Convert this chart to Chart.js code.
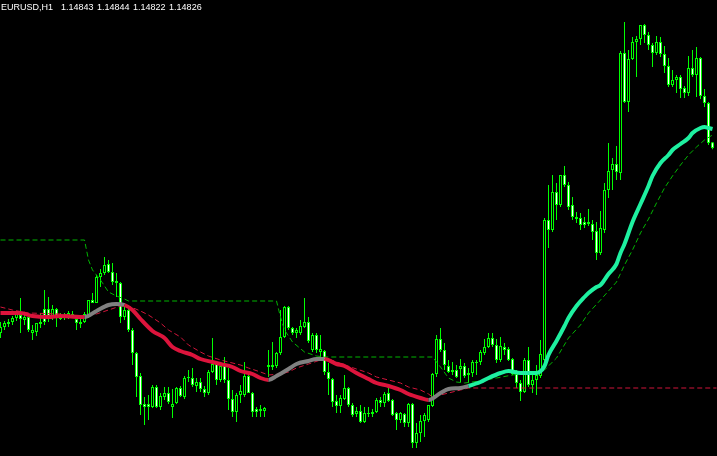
<!DOCTYPE html>
<html>
<head>
<meta charset="utf-8">
<title>EURUSD,H1</title>
<script src="https://cdn.jsdelivr.net/npm/chart.js@4.4.1/dist/chart.umd.min.js"></script>
<style>
  html, body { margin: 0; padding: 0; background: #000; }
  #wrap { width: 717px; height: 456px; position: relative; }
</style>
</head>
<body>
<div id="wrap"><canvas id="chart"></canvas></div>
<script>
// symbol and period shown in the corner
const symbol = 'EURUSD';
const timeframe = 'H1';

// one entry per H1 bar, oldest first
const opens = [
  1.14271, 1.14289, 1.14298, 1.14304, 1.14316, 1.14325, 1.14310, 1.14319, 1.14271, 1.14274,
  1.14298, 1.14343, 1.14343, 1.14316, 1.14343, 1.14319, 1.14316, 1.14319, 1.14328, 1.14313,
  1.14298, 1.14304, 1.14319, 1.14370, 1.14361, 1.14439, 1.14451, 1.14478, 1.14454, 1.14421,
  1.14421, 1.14319, 1.14340, 1.14280, 1.14211, 1.14142, 1.14058, 1.14058, 1.14049, 1.14109,
  1.14049, 1.14079, 1.14091, 1.14049, 1.14061, 1.14106, 1.14079, 1.14136, 1.14136, 1.14112,
  1.14124, 1.14103, 1.14091, 1.14154, 1.14178, 1.14130, 1.14178, 1.14130, 1.14073, 1.14034,
  1.14085, 1.14085, 1.14142, 1.14091, 1.14043, 1.14037, 1.14037, 1.14169, 1.14169, 1.14172,
  1.14211, 1.14259, 1.14349, 1.14286, 1.14271, 1.14271, 1.14289, 1.14304, 1.14220, 1.14265,
  1.14214, 1.14217, 1.14154, 1.14133, 1.14067, 1.14052, 1.14073, 1.14106, 1.14055, 1.14028,
  1.14037, 1.14004, 1.14031, 1.14028, 1.14034, 1.14070, 1.14061, 1.14091, 1.14070, 1.14031,
  1.14010, 1.14028, 1.14001, 1.14058, 1.13941, 1.13971, 1.14007, 1.14010, 1.14052, 1.14148,
  1.14253, 1.14220, 1.14172, 1.14154, 1.14160, 1.14163, 1.14172, 1.14145, 1.14151, 1.14181,
  1.14184, 1.14211, 1.14229, 1.14256, 1.14235, 1.14190, 1.14229, 1.14223, 1.14193, 1.14148,
  1.14121, 1.14094, 1.14190, 1.14115, 1.14130, 1.14142, 1.14190, 1.14610, 1.14580, 1.14694,
  1.14655, 1.14745, 1.14715, 1.14655, 1.14619, 1.14616, 1.14604, 1.14598, 1.14598, 1.14577,
  1.14511, 1.14580, 1.14700, 1.14760, 1.14778, 1.14751, 1.15111, 1.14964, 1.15093, 1.15144,
  1.15153, 1.15195, 1.15165, 1.15135, 1.15111, 1.15144, 1.15108, 1.15072, 1.15015, 1.15030,
  1.15039, 1.15006, 1.14991, 1.15066, 1.15045, 1.15096, 1.14982, 1.14961, 1.14843
];
const highs = [
  1.14304, 1.14307, 1.14313, 1.14322, 1.14334, 1.14376, 1.14334, 1.14331, 1.14295, 1.14301,
  1.14331, 1.14400, 1.14379, 1.14355, 1.14346, 1.14331, 1.14331, 1.14337, 1.14337, 1.14319,
  1.14316, 1.14334, 1.14370, 1.14391, 1.14445, 1.14463, 1.14499, 1.14490, 1.14481, 1.14451,
  1.14424, 1.14349, 1.14346, 1.14286, 1.14214, 1.14151, 1.14079, 1.14085, 1.14115, 1.14115,
  1.14091, 1.14109, 1.14109, 1.14103, 1.14109, 1.14112, 1.14142, 1.14160, 1.14166, 1.14136,
  1.14136, 1.14112, 1.14160, 1.14256, 1.14184, 1.14175, 1.14199, 1.14166, 1.14100, 1.14091,
  1.14115, 1.14184, 1.14145, 1.14094, 1.14049, 1.14055, 1.14049, 1.14220, 1.14244, 1.14214,
  1.14340, 1.14352, 1.14352, 1.14289, 1.14286, 1.14310, 1.14376, 1.14319, 1.14271, 1.14271,
  1.14265, 1.14220, 1.14181, 1.14136, 1.14085, 1.14085, 1.14145, 1.14109, 1.14061, 1.14049,
  1.14055, 1.14049, 1.14049, 1.14043, 1.14076, 1.14079, 1.14094, 1.14109, 1.14073, 1.14034,
  1.14034, 1.14031, 1.14061, 1.14061, 1.14001, 1.14025, 1.14031, 1.14055, 1.14151, 1.14265,
  1.14286, 1.14241, 1.14190, 1.14184, 1.14175, 1.14193, 1.14181, 1.14166, 1.14190, 1.14190,
  1.14220, 1.14253, 1.14271, 1.14271, 1.14253, 1.14259, 1.14241, 1.14229, 1.14196, 1.14160,
  1.14130, 1.14196, 1.14229, 1.14151, 1.14175, 1.14250, 1.14616, 1.14715, 1.14745, 1.14721,
  1.14745, 1.14772, 1.14724, 1.14679, 1.14634, 1.14631, 1.14619, 1.14643, 1.14610, 1.14604,
  1.14637, 1.14721, 1.14841, 1.14796, 1.14832, 1.15117, 1.15204, 1.15120, 1.15159, 1.15162,
  1.15195, 1.15198, 1.15174, 1.15141, 1.15162, 1.15159, 1.15132, 1.15096, 1.15060, 1.15045,
  1.15045, 1.15012, 1.15102, 1.15120, 1.15129, 1.15099, 1.15003, 1.14964, 1.14844
];
const lows = [
  1.14256, 1.14280, 1.14289, 1.14295, 1.14307, 1.14271, 1.14295, 1.14274, 1.14250, 1.14262,
  1.14286, 1.14295, 1.14304, 1.14310, 1.14289, 1.14310, 1.14310, 1.14313, 1.14316, 1.14280,
  1.14286, 1.14301, 1.14316, 1.14361, 1.14361, 1.14409, 1.14445, 1.14451, 1.14415, 1.14379,
  1.14301, 1.14310, 1.14274, 1.14175, 1.14079, 1.14025, 1.13995, 1.14010, 1.14046, 1.14046,
  1.14040, 1.14070, 1.14058, 1.14016, 1.14058, 1.14079, 1.14073, 1.14124, 1.14109, 1.14094,
  1.14094, 1.14079, 1.14085, 1.14151, 1.14115, 1.14124, 1.14121, 1.14040, 1.14019, 1.14004,
  1.14061, 1.14079, 1.14091, 1.14019, 1.14019, 1.14019, 1.14019, 1.14139, 1.14160, 1.14166,
  1.14205, 1.14256, 1.14280, 1.14265, 1.14256, 1.14265, 1.14286, 1.14241, 1.14214, 1.14211,
  1.14199, 1.14145, 1.14085, 1.14049, 1.14031, 1.14031, 1.14070, 1.14049, 1.14019, 1.14019,
  1.14001, 1.14001, 1.14019, 1.14019, 1.14031, 1.14049, 1.14049, 1.14064, 1.14022, 1.13980,
  1.14001, 1.13989, 1.13989, 1.13926, 1.13926, 1.13944, 1.13959, 1.14004, 1.14049, 1.14139,
  1.14214, 1.14160, 1.14151, 1.14145, 1.14136, 1.14124, 1.14136, 1.14121, 1.14139, 1.14145,
  1.14175, 1.14205, 1.14226, 1.14229, 1.14181, 1.14184, 1.14205, 1.14187, 1.14145, 1.14106,
  1.14067, 1.14091, 1.14109, 1.14091, 1.14085, 1.14136, 1.14175, 1.14526, 1.14574, 1.14610,
  1.14649, 1.14709, 1.14640, 1.14610, 1.14601, 1.14580, 1.14586, 1.14592, 1.14550, 1.14490,
  1.14505, 1.14571, 1.14676, 1.14700, 1.14730, 1.14730, 1.14961, 1.14934, 1.15090, 1.15039,
  1.15135, 1.15141, 1.15120, 1.15069, 1.15105, 1.15099, 1.15051, 1.15009, 1.15009, 1.14991,
  1.14976, 1.14976, 1.14982, 1.15039, 1.14979, 1.14973, 1.14949, 1.14835, 1.14822
];
const closes = [
  1.14289, 1.14301, 1.14304, 1.14316, 1.14328, 1.14313, 1.14319, 1.14280, 1.14280, 1.14301,
  1.14304, 1.14304, 1.14313, 1.14343, 1.14319, 1.14313, 1.14322, 1.14331, 1.14319, 1.14301,
  1.14304, 1.14328, 1.14370, 1.14361, 1.14439, 1.14451, 1.14475, 1.14454, 1.14424, 1.14427,
  1.14319, 1.14340, 1.14280, 1.14211, 1.14139, 1.14055, 1.14049, 1.14049, 1.14109, 1.14049,
  1.14082, 1.14091, 1.14064, 1.14058, 1.14106, 1.14082, 1.14136, 1.14139, 1.14115, 1.14124,
  1.14103, 1.14091, 1.14154, 1.14178, 1.14130, 1.14172, 1.14130, 1.14073, 1.14034, 1.14085,
  1.14097, 1.14142, 1.14091, 1.14034, 1.14034, 1.14043, 1.14046, 1.14175, 1.14175, 1.14211,
  1.14259, 1.14349, 1.14286, 1.14271, 1.14280, 1.14292, 1.14304, 1.14247, 1.14265, 1.14220,
  1.14223, 1.14154, 1.14133, 1.14064, 1.14052, 1.14076, 1.14106, 1.14055, 1.14025, 1.14037,
  1.14004, 1.14031, 1.14028, 1.14034, 1.14070, 1.14061, 1.14088, 1.14067, 1.14025, 1.14010,
  1.14031, 1.14001, 1.14058, 1.13941, 1.13971, 1.14007, 1.14025, 1.14055, 1.14148, 1.14253,
  1.14220, 1.14175, 1.14154, 1.14160, 1.14139, 1.14172, 1.14142, 1.14151, 1.14184, 1.14184,
  1.14214, 1.14229, 1.14256, 1.14235, 1.14190, 1.14232, 1.14220, 1.14190, 1.14148, 1.14121,
  1.14094, 1.14190, 1.14115, 1.14130, 1.14145, 1.14208, 1.14610, 1.14580, 1.14694, 1.14655,
  1.14745, 1.14715, 1.14649, 1.14619, 1.14613, 1.14595, 1.14595, 1.14604, 1.14574, 1.14511,
  1.14586, 1.14700, 1.14757, 1.14778, 1.14754, 1.15111, 1.14964, 1.15093, 1.15144, 1.15153,
  1.15195, 1.15165, 1.15135, 1.15111, 1.15144, 1.15108, 1.15072, 1.15015, 1.15030, 1.15039,
  1.15003, 1.14991, 1.15066, 1.15045, 1.15096, 1.14982, 1.14961, 1.14841, 1.14826
];

// thick moving average, read at some bars (bar index -> price)
const maIdx = [0, 5, 8, 12, 15, 20, 21, 24, 27, 29, 31, 33, 35, 38, 41, 43, 45, 48, 50, 53,
  55, 58, 60, 63, 65, 67, 69, 72, 74, 77, 79, 81, 84, 86, 89, 92, 94, 97, 100, 102,
  105, 107, 110, 112, 115, 117, 120, 122, 125, 127, 130, 132, 134, 136, 137, 139, 141, 142, 144, 146,
  147, 149, 150, 152, 154, 155, 156, 158, 160, 162, 163, 165, 167, 168, 170, 172, 173, 175, 176, 177, 178];
const maVal = [1.14331, 1.14331, 1.14322, 1.14319, 1.14322, 1.14319, 1.14319, 1.14337, 1.14355, 1.14358,
  1.14355, 1.14340, 1.14313, 1.14277, 1.14256, 1.14229, 1.14217, 1.14205, 1.14193, 1.14184,
  1.14178, 1.14169, 1.14157, 1.14148, 1.14136, 1.14130, 1.14142, 1.14163, 1.14178, 1.14187,
  1.14193, 1.14193, 1.14178, 1.14172, 1.14151, 1.14133, 1.14121, 1.14112, 1.14100, 1.14088,
  1.14076, 1.14070, 1.14091, 1.14103, 1.14106, 1.14112, 1.14124, 1.14136, 1.14151, 1.14157,
  1.14151, 1.14151, 1.14151, 1.14172, 1.14205, 1.14247, 1.14292, 1.14316, 1.14352, 1.14379,
  1.14391, 1.14409, 1.14415, 1.14448, 1.14478, 1.14511, 1.14538, 1.14604, 1.14658, 1.14712,
  1.14742, 1.14781, 1.14805, 1.14820, 1.14838, 1.14856, 1.14871, 1.14886, 1.14889, 1.14886, 1.14883];
// MA state from a given bar onwards
const maTrendFrom = [0, 21, 31, 67, 81, 107, 117];
const maTrend = ['down', 'flat', 'down', 'flat', 'down', 'flat', 'up'];

// green dashed level
const greenIdx = [0, 21, 22, 23, 25, 27, 29, 31, 32, 69, 70, 71, 73, 76, 79, 81, 108, 110, 112, 114,
  116, 120, 124, 128, 134, 136, 139, 142, 145, 147, 150, 154, 156, 158, 160, 162, 164, 166, 168, 170,
  172, 174, 176, 178];
const greenVal = [1.14550, 1.14550, 1.14490, 1.14460, 1.14430, 1.14394, 1.14382, 1.14373, 1.14367, 1.14367,
  1.14319, 1.14280, 1.14244, 1.14214, 1.14202, 1.14199, 1.14199, 1.14169, 1.14136, 1.14124,
  1.14121, 1.14127, 1.14136, 1.14145, 1.14154, 1.14160, 1.14196, 1.14256, 1.14295, 1.14331,
  1.14370, 1.14424, 1.14475, 1.14520, 1.14571, 1.14613, 1.14661, 1.14706, 1.14742, 1.14775,
  1.14805, 1.14829, 1.14850, 1.14865];

// red dashed level
const redIdx = [0, 3, 7, 15, 20, 24, 27, 30, 32, 35, 37, 40, 42, 45, 47, 50, 52, 55, 57, 60,
  62, 65, 67, 70, 72, 74, 77, 80, 82, 84, 86, 89, 92, 94, 97, 100, 102, 105, 107, 108,
  110, 112, 115, 117, 179];
const redVal = [1.14349, 1.14340, 1.14331, 1.14328, 1.14322, 1.14328, 1.14340, 1.14352, 1.14352, 1.14337,
  1.14325, 1.14301, 1.14280, 1.14259, 1.14235, 1.14214, 1.14202, 1.14190, 1.14184, 1.14175,
  1.14166, 1.14154, 1.14145, 1.14148, 1.14154, 1.14166, 1.14178, 1.14190, 1.14193, 1.14184,
  1.14175, 1.14163, 1.14151, 1.14139, 1.14130, 1.14121, 1.14109, 1.14100, 1.14088, 1.14079,
  1.14085, 1.14091, 1.14100, 1.14106, 1.14106];

// visible price window
const priceMin = 1.13902;
const priceMax = 1.15270;

const trendColors = { down: '#dc143c', flat: '#808080', up: '#1ef0a0' };
const bars = opens.map((_, i) => i);

function maColor(barIndex) {
  let c = trendColors.down;
  maTrendFrom.forEach((from, k) => {
    if (barIndex >= from) c = trendColors[maTrend[k]];
  });
  return c;
}

// symbol + last bar OHLC in the top-left corner
const cornerText = {
  id: 'cornerText',
  afterDraw(chart) {
    const ctx = chart.ctx;
    const last = opens.length - 1;
    ctx.save();
    ctx.font = '9px "Liberation Sans", Arial, sans-serif';
    ctx.fillStyle = '#ffffff';
    ctx.textBaseline = 'alphabetic';
    let x = 1;
    const head = symbol + ',' + timeframe;
    ctx.fillText(head, x, 10);
    x += ctx.measureText(head).width + 8;
    [opens[last], highs[last], lows[last], closes[last]].forEach(v => {
      const s = v.toFixed(5);
      ctx.fillText(s, x, 10);
      x += ctx.measureText(s).width + 3.5;
    });
    ctx.restore();
  }
};

new Chart(document.getElementById('chart'), {
  type: 'bar',
  data: {
    datasets: [
      {
        type: 'line',
        data: maIdx.map((x, k) => ({ x, y: maVal[k] })),
        borderColor: trendColors.down,
        borderWidth: 4,
        pointRadius: 0,
        cubicInterpolationMode: 'monotone',
        segment: { borderColor: c => maColor(maIdx[c.p0DataIndex]) },
        order: 1
      },
      {
        type: 'line',
        data: greenIdx.map((x, k) => ({ x, y: greenVal[k] })),
        borderColor: '#00b400',
        borderWidth: 1,
        borderDash: [5, 3],
        pointRadius: 0,
        tension: 0,
        order: 2
      },
      {
        type: 'line',
        data: redIdx.map((x, k) => ({ x, y: redVal[k] })),
        borderColor: '#d0143a',
        borderWidth: 1,
        borderDash: [5, 3],
        pointRadius: 0,
        tension: 0,
        order: 3
      },
      {
        // candle bodies: bull hollow (black), bear white
        data: bars.map(i => ({ x: i, y: [opens[i], closes[i]] })),
        backgroundColor: bars.map(i => closes[i] >= opens[i] ? '#000000' : '#ffffff'),
        borderColor: '#00ff00',
        borderWidth: 1,
        borderSkipped: false,
        barThickness: 3,
        grouped: false,
        inflateAmount: 0,
        order: 4
      },
      {
        // wicks
        data: bars.map(i => ({ x: i, y: [lows[i], highs[i]] })),
        backgroundColor: '#00ff00',
        borderWidth: 0,
        barThickness: 1,
        grouped: false,
        inflateAmount: 0,
        order: 5
      }
    ]
  },
  options: {
    responsive: true,
    maintainAspectRatio: false,
    animation: false,
    events: [],
    layout: { padding: 0 },
    plugins: {
      legend: { display: false },
      tooltip: { enabled: false }
    },
    scales: {
      x: { type: 'linear', display: false, offset: false, min: -0.125, max: bars.length + 0.125 },
      y: { type: 'linear', display: false, min: priceMin, max: priceMax }
    }
  },
  plugins: [cornerText]
});
</script>
</body>
</html>
